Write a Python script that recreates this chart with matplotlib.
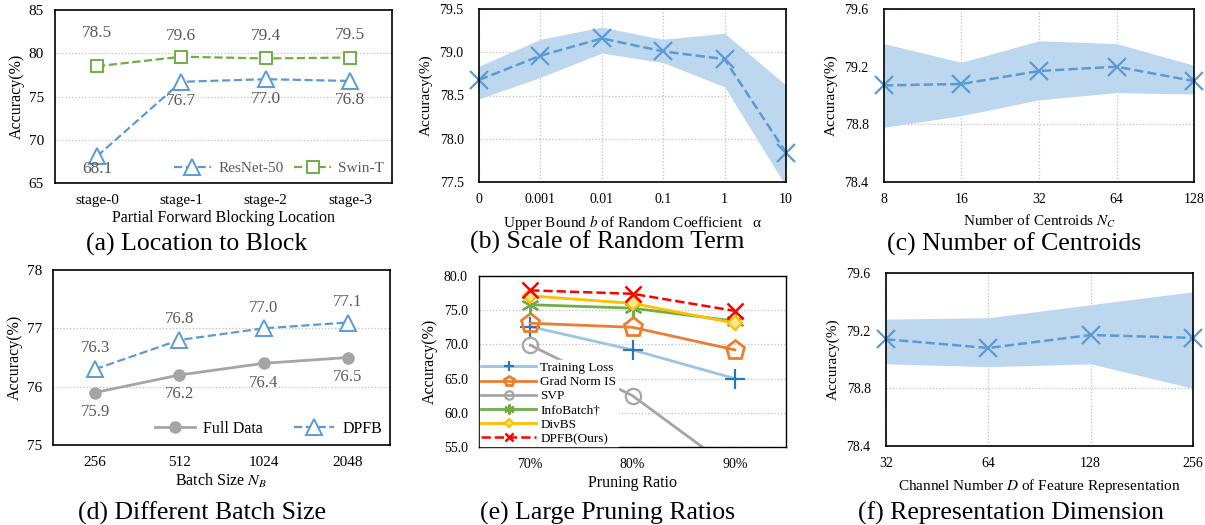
import matplotlib
matplotlib.use("Agg")
import matplotlib.pyplot as plt
import numpy as np

plt.rcParams["font.family"] = ["Liberation Serif", "DejaVu Serif"]
plt.rcParams["mathtext.fontset"] = "stix"

# (a) location to block
stages = ["stage-0", "stage-1", "stage-2", "stage-3"]
resnet_acc = [68.1, 76.7, 77.0, 76.8]
swin_acc = [78.5, 79.6, 79.4, 79.5]

# (b) scale of random term
bound_labels = ["0", "0.001", "0.01", "0.1", "1", "10"]
bound_acc = [78.68, 78.96, 79.16, 79.01, 78.92, 77.84]
bound_hi = [78.84, 79.15, 79.29, 79.15, 79.22, 78.62]
bound_lo = [78.46, 78.71, 78.99, 78.88, 78.60, 77.45]

# (c) number of centroids
centroid_labels = ["8", "16", "32", "64", "128"]
centroid_acc = [79.07, 79.08, 79.17, 79.20, 79.10]
centroid_hi = [79.36, 79.23, 79.38, 79.36, 79.21]
centroid_lo = [78.78, 78.86, 78.97, 79.02, 79.01]

# (d) batch size
batch_labels = ["256", "512", "1024", "2048"]
full_acc = [75.9, 76.2, 76.4, 76.5]
dpfb_batch_acc = [76.3, 76.8, 77.0, 77.1]

# (e) large pruning ratios
ratio_labels = ["70%", "80%", "90%"]
train_loss_acc = [72.6, 69.2, 65.0]
gradnorm_acc = [73.1, 72.5, 69.2]
svp_acc = [69.9, 62.5, 51.5]
infobatch_acc = [75.8, 75.3, 73.4]
divbs_acc = [77.1, 76.0, 73.1]
dpfb_ratio_acc = [77.9, 77.4, 74.9]

# (f) representation dimension
dim_labels = ["32", "64", "128", "256"]
dim_acc = [79.14, 79.08, 79.17, 79.15]
dim_hi = [79.28, 79.29, 79.38, 79.47]
dim_lo = [78.97, 78.95, 78.97, 78.80]

BLUE = "#5B9BD5"
BAND = "#BDD7EE"
GREEN = "#70AD47"
GRAY_TXT = "#595959"
SERIF = ["Liberation Serif", "DejaVu Serif"]

W, H = 1205, 525
fig = plt.figure(figsize=(W / 100, H / 100), dpi=100)


def px_axes(l, t, r, b):
    return fig.add_axes([l / W, 1 - b / H, (r - l) / W, (b - t) / H])


def frame(ax, lw=1.2, pad=6):
    for s in ax.spines.values():
        s.set_color("black")
        s.set_linewidth(lw)
    ax.tick_params(length=0, pad=pad)


def dotted_grid(ax, axis="y"):
    ax.grid(True, axis=axis, color="#BFBFBF", linestyle=":", linewidth=0.9)
    ax.set_axisbelow(True)


def caption(x, y, s):
    fig.text(x / W, 1 - y / H, s, ha="center", va="center", fontsize=18.5,
             family=SERIF)


def label_points(ax, xs, ys, offsets, size):
    for xi, v, o in zip(xs, ys, offsets):
        ax.annotate("%.1f" % v, (xi, v), xytext=(0, o), textcoords="offset points",
                    ha="center", va="center", fontsize=size, color=GRAY_TXT)


# ---- (a)
ax = px_axes(55, 10, 392, 183)
x = np.arange(len(stages))
ax.plot(x, resnet_acc, "--", color=BLUE, lw=1.6, marker="^", ms=11,
        mfc="white", mec=BLUE, mew=1.4, label="ResNet-50")
ax.plot(x, swin_acc, "--", color=GREEN, lw=1.6, marker="s", ms=9,
        mfc="white", mec=GREEN, mew=1.4, label="Swin-T")
label_points(ax, x, swin_acc, [24, 15, 16, 16], 12.5)
label_points(ax, x, resnet_acc, [-9.5, -14, -14, -14], 12.5)
ax.set_xlim(-0.5, 3.5)
ax.set_ylim(65, 85)
ax.set_yticks([65, 70, 75, 80, 85])
ax.set_xticks(x)
ax.set_xticklabels(stages)
for yv in [70, 75, 80]:
    ax.axhline(yv, color="#BFBFBF", ls=":", lw=0.9, zorder=0)
frame(ax, pad=8)
ax.tick_params(labelsize=11)
ax.set_xlabel("Partial Forward Blocking Location", fontsize=11.5, labelpad=2)
ax.set_ylabel("Accuracy(%)", fontsize=11.5, labelpad=3)
leg = ax.legend(loc="lower right", ncol=2, frameon=False, fontsize=11,
                handlelength=2.4, handletextpad=0.5, columnspacing=0.7,
                borderaxespad=0.1)
for t in leg.get_texts():
    t.set_color(GRAY_TXT)

# ---- (b)
ax = px_axes(479, 9, 786, 182)
x = np.arange(len(bound_labels))
ax.fill_between(x, bound_lo, bound_hi, color=BAND, lw=0)
ax.plot(x, bound_acc, "--", color=BLUE, lw=1.8, marker="x", ms=13, mew=1.6,
        clip_on=False)
ax.set_xlim(0, 5)
ax.set_ylim(77.5, 79.5)
ax.set_xticks(x)
ax.set_xticklabels(bound_labels)
ax.set_yticks([77.5, 78.0, 78.5, 79.0, 79.5])
ax.set_yticklabels(["77.5", "78.0", "78.5", "79.0", "79.5"])
dotted_grid(ax, "both")
frame(ax, pad=8)
ax.tick_params(axis="y", pad=11)
ax.tick_params(labelsize=10)
ax.set_xlabel("Upper Bound $b$ of Random Coefficient   \u03b1", fontsize=11, labelpad=5)
ax.set_ylabel("Accuracy(%)", fontsize=11, labelpad=5)

# ---- (c)
ax = px_axes(884, 9, 1194, 182)
x = np.arange(len(centroid_labels))
ax.fill_between(x, centroid_lo, centroid_hi, color=BAND, lw=0)
ax.plot(x, centroid_acc, "--", color=BLUE, lw=1.8, marker="x", ms=13, mew=1.6,
        clip_on=False)
ax.set_xlim(0, 4)
ax.set_ylim(78.4, 79.6)
ax.set_xticks(x)
ax.set_xticklabels(centroid_labels)
ax.set_yticks([78.4, 78.8, 79.2, 79.6])
ax.set_yticklabels(["78.4", "78.8", "79.2", "79.6"])
dotted_grid(ax, "both")
frame(ax, pad=8)
ax.tick_params(axis="y", pad=11)
ax.tick_params(labelsize=10)
ax.set_xlabel("Number of Centroids $N_C$", fontsize=11, labelpad=5)
ax.set_ylabel("Accuracy(%)", fontsize=11, labelpad=5)

# ---- (d)
ax = px_axes(53, 270, 390, 445)
x = np.arange(len(batch_labels))
ax.plot(x, full_acc, "-", color="#A5A5A5", lw=2, marker="o", ms=8,
        mfc="#A5A5A5", mec="#A5A5A5", label="Full Data")
ax.plot(x, dpfb_batch_acc, "--", color=BLUE, lw=1.6, marker="^", ms=11,
        mfc="white", mec=BLUE, mew=1.4, label="DPFB")
label_points(ax, x, dpfb_batch_acc, [15, 15, 15, 15], 12)
label_points(ax, x, full_acc, [-14, -14, -14, -14], 12)
ax.set_xlim(-0.5, 3.5)
ax.set_ylim(75, 78)
ax.set_yticks([75, 76, 77, 78])
ax.set_xticks(x)
ax.set_xticklabels(batch_labels)
for yv in [76, 77]:
    ax.axhline(yv, color="#BFBFBF", ls=":", lw=0.9, zorder=0)
frame(ax, pad=8)
ax.tick_params(labelsize=11)
ax.set_xlabel("Batch Size $N_B$", fontsize=11.5, labelpad=2)
ax.set_ylabel("Accuracy(%)", fontsize=11.5, labelpad=3)
ax.legend(loc="lower right", ncol=2, frameon=False, fontsize=11.5,
          handlelength=2.5, handletextpad=0.5, columnspacing=2.0,
          borderaxespad=0.1)

# ---- (e)
ax = px_axes(479, 276, 786, 447)
x = np.arange(len(ratio_labels))
ax.plot(x, train_loss_acc, "-", color="#9DC3E6", lw=2, marker="+", ms=14,
        mec="#2E75B6", mew=1.6, label="Training Loss")
ax.plot(x, gradnorm_acc, "-", color="#ED7D31", lw=2, marker="p", ms=14,
        mfc="none", mec="#ED7D31", mew=2, label="Grad Norm IS")
ax.plot(x, svp_acc, "-", color="#A5A5A5", lw=2, marker="o", ms=11,
        mfc="none", mec="#A5A5A5", mew=1.6, label="SVP")
ax.plot(x, infobatch_acc, "-", color=GREEN, lw=2, marker=(6, 2, 0), ms=13,
        mec=GREEN, mew=1.6, label="InfoBatch\u2020")
ax.plot(x, divbs_acc, "-", color="#FFC000", lw=2, marker="D", ms=7,
        mfc="#FFE699", mec="#FFC000", mew=1.6, label="DivBS")
ax.plot(x, dpfb_ratio_acc, "--", color="#FF0000", lw=1.8, marker="x", ms=11,
        mec="#FF0000", mew=1.8, label="DPFB(Ours)")
ax.set_xlim(-0.5, 2.5)
ax.set_ylim(55, 80)
ax.set_xticks(x)
ax.set_xticklabels(ratio_labels)
ax.set_yticks([55, 60, 65, 70, 75, 80])
ax.set_yticklabels(["55.0", "60.0", "65.0", "70.0", "75.0", "80.0"])
dotted_grid(ax, "y")
frame(ax, lw=1.0, pad=8)
ax.tick_params(labelsize=10)
ax.set_xlabel("Pruning Ratio", fontsize=11.5, labelpad=3)
ax.set_ylabel("Accuracy(%)", fontsize=11.5, labelpad=4)
ax.legend(loc="lower left", fontsize=9.5, frameon=True, framealpha=1,
          edgecolor="white", fancybox=False, handlelength=4.2,
          labelspacing=0.15, borderpad=0.1, borderaxespad=0.05,
          handletextpad=0.3, markerscale=0.55)

# ---- (f)
ax = px_axes(886, 273, 1193, 446)
x = np.arange(len(dim_labels))
ax.fill_between(x, dim_lo, dim_hi, color=BAND, lw=0)
ax.plot(x, dim_acc, "--", color=BLUE, lw=1.8, marker="x", ms=13, mew=1.6,
        clip_on=False)
ax.set_xlim(0, 3)
ax.set_ylim(78.4, 79.6)
ax.set_xticks(x)
ax.set_xticklabels(dim_labels)
ax.set_yticks([78.4, 78.8, 79.2, 79.6])
ax.set_yticklabels(["78.4", "78.8", "79.2", "79.6"])
dotted_grid(ax, "both")
frame(ax, pad=8)
ax.tick_params(axis="y", pad=11)
ax.tick_params(labelsize=10)
ax.set_xlabel("Channel Number $D$ of Feature Representation", fontsize=11, labelpad=5)
ax.set_ylabel("Accuracy(%)", fontsize=11, labelpad=5)

caption(197, 244, "(a) Location to Block")
caption(607, 242, "(b) Scale of Random Term")
caption(1014, 244, "(c) Number of Centroids")
caption(202, 513, "(d) Different Batch Size")
caption(607, 513, "(e) Large Pruning Ratios")
caption(1011, 513, "(f) Representation Dimension")

fig.savefig("out.png", dpi=100)
